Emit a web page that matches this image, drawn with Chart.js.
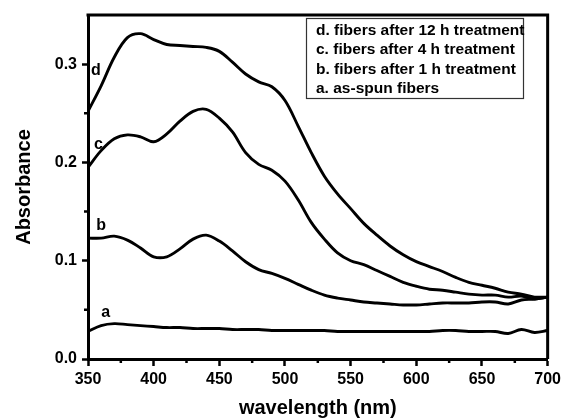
<!DOCTYPE html>
<html>
<head>
<meta charset="utf-8">
<script src="https://cdn.jsdelivr.net/npm/chart.js@4.4.1/dist/chart.umd.min.js"></script>
<style>
  html, body { margin: 0; padding: 0; background: #fff; }
  #chart { display: block; }
</style>
</head>
<body>
<canvas id="chart" width="565" height="420"></canvas>
<script>
// wavelength (nm)
const wavelengths = [350, 360, 370, 380, 390, 400, 410, 420, 430, 440, 450, 460,
                     470, 480, 490, 500, 510, 520, 530, 540, 550, 560, 570, 580,
                     590, 600, 610, 620, 630, 640, 650, 660, 670, 680, 690, 700];

// a. as-spun fibers
const seriesA = [0.028, 0.034, 0.036, 0.035, 0.034, 0.033, 0.032, 0.032, 0.031, 0.031, 0.031, 0.030,
                 0.030, 0.030, 0.029, 0.029, 0.029, 0.029, 0.029, 0.028, 0.028, 0.028, 0.028, 0.028,
                 0.028, 0.028, 0.028, 0.029, 0.029, 0.028, 0.028, 0.028, 0.026, 0.030, 0.027, 0.029];
// b. after 1 h
const seriesB = [0.123, 0.123, 0.125, 0.121, 0.113, 0.104, 0.104, 0.112, 0.122, 0.126, 0.120, 0.110,
                 0.099, 0.091, 0.087, 0.082, 0.076, 0.070, 0.065, 0.062, 0.060, 0.058, 0.057, 0.056,
                 0.055, 0.055, 0.056, 0.057, 0.057, 0.057, 0.058, 0.058, 0.056, 0.060, 0.061, 0.063];
// c. after 4 h
const seriesC = [0.195, 0.212, 0.224, 0.228, 0.226, 0.221, 0.229, 0.242, 0.252, 0.254, 0.245, 0.231,
                 0.210, 0.198, 0.192, 0.181, 0.162, 0.139, 0.122, 0.108, 0.100, 0.096, 0.090, 0.084,
                 0.078, 0.074, 0.071, 0.070, 0.068, 0.066, 0.065, 0.065, 0.063, 0.064, 0.061, 0.063];
// d. after 12 h
const seriesD = [0.252, 0.278, 0.307, 0.327, 0.331, 0.325, 0.320, 0.319, 0.318, 0.317, 0.313, 0.302,
                 0.290, 0.282, 0.277, 0.263, 0.237, 0.210, 0.186, 0.168, 0.153, 0.138, 0.126, 0.115,
                 0.106, 0.099, 0.094, 0.089, 0.083, 0.078, 0.075, 0.072, 0.068, 0.066, 0.063, 0.063];

const curveNames = ['a', 'b', 'c', 'd'];
const legendLines = [
    'd. fibers after 12 h treatment',
    'c. fibers after 4 h treatment',
    'b. fibers after 1 h treatment',
    'a. as-spun fibers'
];
const xMinorTicks = [375, 425, 475, 525, 575, 625, 675];
const yMinorTicks = [0.05, 0.15, 0.25];

const FONT = 'Arial, "Liberation Sans", sans-serif';

function toPoints(values) {
    return values.map((v, i) => ({ x: wavelengths[i], y: v }));
}

// frame, minor ticks, curve letters and the legend box
const extrasPlugin = {
    id: 'extras',
    afterDraw(chart) {
        const { ctx, chartArea: area, scales } = chart;
        const xs = scales.x, ys = scales.y;
        ctx.save();

        // top and right frame
        ctx.strokeStyle = '#000';
        ctx.lineWidth = 3;
        ctx.beginPath();
        ctx.moveTo(area.left - 1.5, area.top);
        ctx.lineTo(area.right, area.top);
        ctx.lineTo(area.right, area.bottom);
        ctx.stroke();

        // minor ticks
        ctx.lineWidth = 2.5;
        ctx.beginPath();
        xMinorTicks.forEach(v => {
            const px = xs.getPixelForValue(v);
            ctx.moveTo(px, area.bottom);
            ctx.lineTo(px, area.bottom + 4);
        });
        yMinorTicks.forEach(v => {
            const py = ys.getPixelForValue(v);
            ctx.moveTo(area.left, py);
            ctx.lineTo(area.left - 4, py);
        });
        ctx.stroke();

        // curve letters
        ctx.fillStyle = '#000';
        ctx.font = 'bold 16px ' + FONT;
        ctx.textAlign = 'center';
        ctx.textBaseline = 'middle';
        const spots = { a: [363.5, 0.047], b: [360, 0.136], c: [358, 0.218], d: [356, 0.293] };
        curveNames.forEach(n => {
            const [lx, ly] = spots[n];
            ctx.fillText(n, xs.getPixelForValue(lx), ys.getPixelForValue(ly));
        });

        // legend box
        ctx.lineWidth = 1.2;
        ctx.strokeStyle = '#333';
        ctx.strokeRect(306.5, 18.5, 217, 80);
        ctx.font = 'bold 15.5px ' + FONT;
        ctx.textAlign = 'left';
        ctx.textBaseline = 'alphabetic';
        legendLines.forEach((t, i) => {
            ctx.fillText(t, 316, 35 + i * 19.3);
        });

        ctx.restore();
    }
};

const ctx = document.getElementById('chart').getContext('2d');
new Chart(ctx, {
    type: 'line',
    data: {
        datasets: [seriesA, seriesB, seriesC, seriesD].map((s, i) => ({
            label: curveNames[i],
            data: toPoints(s),
            borderColor: '#000',
            borderWidth: 2.9,
            pointRadius: 0,
            tension: 0.35,
            fill: false
        }))
    },
    options: {
        responsive: false,
        animation: false,
        layout: { padding: { left: 0, top: 15, right: 15, bottom: 0 } },
        plugins: {
            legend: { display: false },
            tooltip: { enabled: false }
        },
        scales: {
            x: {
                type: 'linear',
                min: 350,
                max: 700,
                afterFit: (scale) => { scale.height = 61; },
                grid: {
                    drawOnChartArea: false,
                    tickLength: 7,
                    tickWidth: 2.5,
                    tickColor: '#000'
                },
                border: { color: '#000', width: 3 },
                ticks: {
                    stepSize: 50,
                    color: '#000',
                    padding: 4,
                    maxRotation: 0,
                    font: { family: FONT, size: 16, weight: 'bold' }
                },
                title: {
                    display: true,
                    text: 'wavelength (nm)',
                    color: '#000',
                    padding: { top: 0, bottom: 0 },
                    font: { family: FONT, size: 20, weight: 'bold' }
                }
            },
            y: {
                min: 0,
                max: 0.35,
                afterFit: (scale) => { scale.width = 88; },
                grid: {
                    drawOnChartArea: false,
                    tickLength: 6,
                    tickWidth: 2.5,
                    tickColor: '#000'
                },
                border: { color: '#000', width: 3 },
                ticks: {
                    stepSize: 0.1,
                    includeBounds: false,
                    color: '#000',
                    padding: 5,
                    font: { family: FONT, size: 16, weight: 'bold' },
                    callback: (v) => v.toFixed(1)
                },
                title: {
                    display: true,
                    text: 'Absorbance',
                    color: '#000',
                    padding: { top: 12, bottom: 0 },
                    font: { family: FONT, size: 20, weight: 'bold' }
                }
            }
        }
    },
    plugins: [extrasPlugin]
});
</script>
</body>
</html>
